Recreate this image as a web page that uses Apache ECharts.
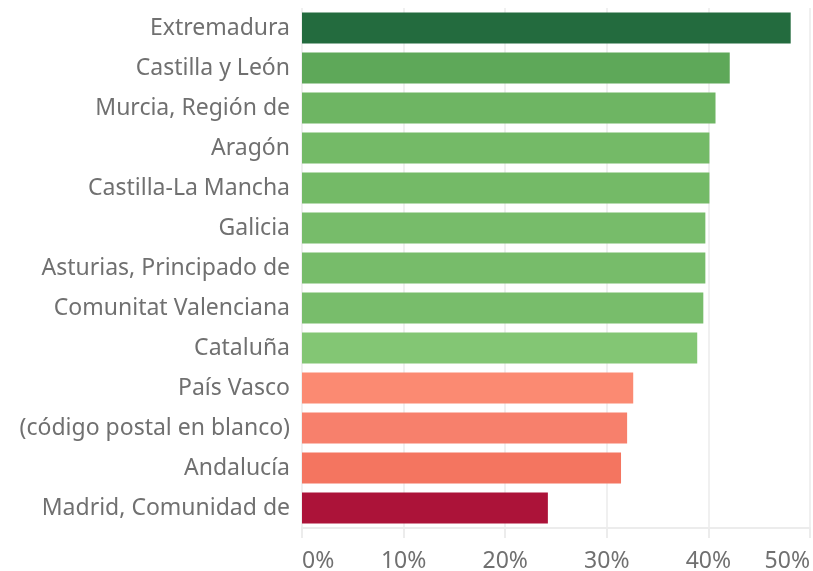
<!DOCTYPE html>
<html>
<head>
<meta charset="utf-8">
<script src="https://cdn.jsdelivr.net/npm/echarts@6/dist/echarts.min.js"></script>
<style>
  html, body { margin: 0; padding: 0; background: #fff; }
  #chart { width: 813px; height: 571px; }
</style>
</head>
<body>
<div id="chart"></div>
<script>
const regions = [
  "Extremadura", "Castilla y León", "Murcia, Región de", "Aragón",
  "Castilla-La Mancha", "Galicia", "Asturias, Principado de",
  "Comunitat Valenciana", "Cataluña", "País Vasco",
  "(código postal en blanco)", "Andalucía", "Madrid, Comunidad de",
];
const shares = [48.1, 42.1, 40.7, 40.1, 40.1, 39.7, 39.7, 39.5, 38.9, 32.6, 32.0, 31.4, 24.2];
const barColors = [
  "#236B3E", "#5EA859", "#6EB563", "#74BA67", "#74BA67", "#77BC6A", "#77BC6A",
  "#78BD6B", "#83C674", "#FB8A72", "#F7806C", "#F47560", "#AC1339",
];
const xTicks = [0, 10, 20, 30, 40, 50];

const chart = echarts.init(document.getElementById("chart"));
const textColor = "#707070";
const font = "'Noto Sans', sans-serif";

chart.setOption({
  animation: false,
  backgroundColor: "#fff",
  grid: { left: 302, right: 3, top: 8, height: 520, outerBoundsMode: "none" },
  xAxis: {
    type: "value", min: 0, max: 50, interval: 10,
    axisLine: { show: true, lineStyle: { color: "#ececec", width: 2 } },
    axisTick: { show: true, length: 10, lineStyle: { color: "#ececec", width: 2 } },
    splitLine: { lineStyle: { color: "#f0f0f0", width: 2 } },
    axisLabel: {
      color: textColor, fontSize: 23, fontFamily: font, margin: 22,
      alignMinLabel: "left", alignMaxLabel: "right",
      formatter: v => xTicks.includes(v) ? v + "%" : "",
    },
  },
  yAxis: {
    type: "category", data: regions, inverse: true,
    axisLine: { show: false }, axisTick: { show: false },
    axisLabel: { color: textColor, fontSize: 23, fontFamily: font, margin: 12 },
  },
  series: [{
    type: "bar",
    data: shares.map((v, i) => ({ value: v, itemStyle: { color: barColors[i] } })),
    barWidth: 31,
  }],
});
</script>
</body>
</html>
